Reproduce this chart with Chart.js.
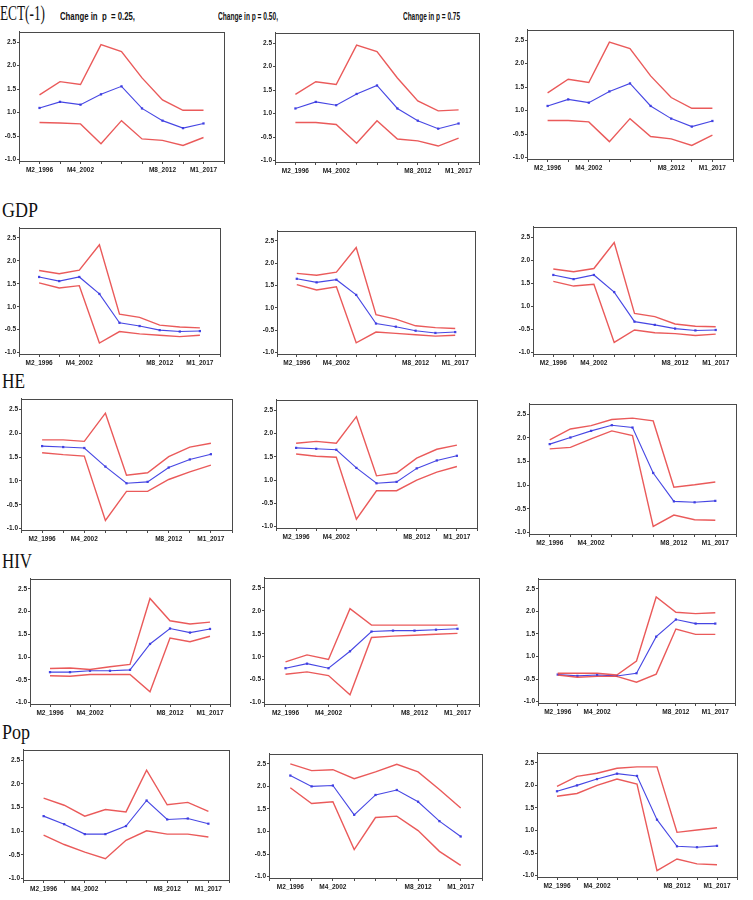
<!DOCTYPE html>
<html><head><meta charset="utf-8">
<script src="https://cdn.jsdelivr.net/npm/chart.js@4"></script>
<style>
body{margin:0;background:#fff;width:753px;height:900px;position:relative;overflow:hidden;font-family:"Liberation Sans",Arial,sans-serif}
.t{position:absolute;font-family:"Liberation Serif","DejaVu Serif",serif;font-size:20px;line-height:20px;color:#111;white-space:nowrap;transform-origin:0 0}
.h{position:absolute;font-weight:bold;font-size:10.5px;line-height:11px;color:#111;white-space:nowrap;transform-origin:0 0}
.p{position:absolute}
</style></head><body>
<div class="t" data-w="45" style="left:0px;top:3px">ECT(-1)</div>
<div class="t" data-w="36" style="left:2px;top:200px">GDP</div>
<div class="t" data-w="23" style="left:2px;top:371px">HE</div>
<div class="t" data-w="30" style="left:2px;top:551px">HIV</div>
<div class="t" data-w="28" style="left:2px;top:722px">Pop</div>
<div class="h" data-w="75" style="left:60px;top:11px">Change in&nbsp; p&nbsp; = 0.25,</div>
<div class="h" data-w="60" style="left:218px;top:11px">Change in p = 0.50,</div>
<div class="h" data-w="57" style="left:403px;top:11px">Change in p = 0.75</div>
<script>
// ---- categories and tick labels ----
const categories = ["", "M2_1996", "", "M4_2002", "", "", "", "M8_2012", "", "M1_2017", ""];
const yTickValues = [0, 0.5, 1.0, 1.5, 2.0, 2.5];
const yTickLabels = ["-1.0", "-0.5", "1.0", "1.5", "2.0", "2.5"];

// ---- ECT(-1) ----
const ectUp25  = [1.38,1.66,1.60,2.45,2.30,1.74,1.27,1.05,1.05];
const ectMid25 = [1.10,1.23,1.17,1.39,1.56,1.09,0.83,0.67,0.77];
const ectLow25 = [0.79,0.78,0.76,0.34,0.83,0.44,0.41,0.30,0.47];
const ectUp50  = [1.41,1.68,1.62,2.46,2.32,1.76,1.27,1.06,1.08];
const ectMid50 = [1.11,1.25,1.18,1.42,1.60,1.11,0.85,0.68,0.79];
const ectLow50 = [0.81,0.81,0.77,0.37,0.85,0.46,0.42,0.31,0.48];
const ectUp75  = [1.38,1.67,1.60,2.46,2.32,1.74,1.28,1.05,1.05];
const ectMid75 = [1.10,1.24,1.17,1.41,1.58,1.10,0.83,0.66,0.78];
const ectLow75 = [0.79,0.79,0.76,0.34,0.83,0.45,0.40,0.26,0.48];
// ---- GDP ----
const gdpUp25  = [1.79,1.72,1.80,2.35,0.84,0.77,0.60,0.56,0.54];
const gdpMid25 = [1.65,1.56,1.65,1.28,0.65,0.58,0.49,0.46,0.47];
const gdpLow25 = [1.52,1.41,1.46,0.21,0.46,0.41,0.38,0.35,0.38];
const gdpUp50  = [1.77,1.73,1.80,2.35,0.85,0.75,0.60,0.56,0.54];
const gdpMid50 = [1.65,1.57,1.63,1.29,0.65,0.58,0.49,0.44,0.46];
const gdpLow50 = [1.52,1.40,1.47,0.22,0.46,0.43,0.40,0.37,0.39];
const gdpUp75  = [1.81,1.75,1.82,2.38,0.85,0.78,0.62,0.57,0.56];
const gdpMid75 = [1.68,1.59,1.68,1.31,0.67,0.60,0.52,0.48,0.49];
const gdpLow75 = [1.54,1.44,1.48,0.22,0.49,0.43,0.41,0.37,0.40];
// ---- HE ----
const heUp25  = [1.86,1.86,1.83,2.42,1.12,1.17,1.51,1.71,1.79];
const heMid25 = [1.73,1.71,1.69,1.30,0.95,0.98,1.28,1.45,1.56];
const heLow25 = [1.59,1.55,1.52,0.17,0.78,0.78,1.03,1.19,1.33];
const heUp50  = [1.79,1.83,1.79,2.36,1.09,1.15,1.47,1.66,1.75];
const heMid50 = [1.69,1.67,1.65,1.26,0.93,0.96,1.25,1.42,1.52];
const heLow50 = [1.56,1.51,1.49,0.16,0.77,0.77,1.00,1.17,1.29];
const heUp75  = [1.96,2.19,2.26,2.39,2.42,2.36,0.96,1.01,1.07];
const heMid75 = [1.87,2.01,2.15,2.27,2.22,1.26,0.66,0.64,0.67];
const heLow75 = [1.77,1.80,1.98,2.15,2.05,0.13,0.37,0.27,0.26];
// ---- HIV ----
const hivUp25  = [0.75,0.76,0.73,0.79,0.84,2.29,1.80,1.73,1.77];
const hivMid25 = [0.67,0.67,0.70,0.70,0.72,1.29,1.63,1.54,1.62];
const hivLow25 = [0.59,0.58,0.62,0.62,0.62,0.24,1.42,1.34,1.46];
const hivUp50  = [0.89,1.04,0.94,2.05,1.69,1.69,1.69,1.69,1.69];
const hivMid50 = [0.75,0.85,0.75,1.12,1.55,1.57,1.57,1.59,1.61];
const hivLow50 = [0.62,0.67,0.59,0.17,1.42,1.45,1.47,1.49,1.51];
const hivUp75  = [0.63,0.63,0.63,0.59,0.90,2.32,1.98,1.95,1.97];
const hivMid75 = [0.60,0.57,0.59,0.57,0.63,1.44,1.82,1.73,1.73];
const hivLow75 = [0.59,0.54,0.56,0.56,0.43,0.61,1.61,1.49,1.49];
// ---- Pop ----
const popUp25  = [1.70,1.55,1.32,1.46,1.41,2.29,1.56,1.61,1.42];
const popMid25 = [1.32,1.15,0.94,0.94,1.11,1.65,1.25,1.27,1.16];
const popLow25 = [0.92,0.72,0.56,0.42,0.81,1.01,0.94,0.94,0.88];
const popUp50  = [2.50,2.35,2.37,2.17,2.32,2.49,2.32,1.93,1.52];
const popMid50 = [2.24,2.00,2.02,1.37,1.81,1.92,1.66,1.23,0.89];
const popLow50 = [1.97,1.62,1.66,0.60,1.31,1.34,1.02,0.56,0.25];
const popUp75  = [1.98,2.20,2.27,2.38,2.41,2.41,0.96,1.01,1.06];
const popMid75 = [1.87,2.00,2.14,2.26,2.21,1.24,0.65,0.63,0.66];
const popLow75 = [1.76,1.82,2.00,2.14,2.03,0.11,0.37,0.26,0.24];

// ---- layout (plot frame boxes: left, top, right, bottom) ----
const panels = [
  [19,30,224,161, ectUp25,ectMid25,ectLow25],
  [275,31,479,162, ectUp50,ectMid50,ectLow50],
  [527,28,733,159, ectUp75,ectMid75,ectLow75],
  [19,226,220,354, gdpUp25,gdpMid25,gdpLow25],
  [277,229,475,354, gdpUp50,gdpMid50,gdpLow50],
  [533,225,736,354, gdpUp75,gdpMid75,gdpLow75],
  [21,397,232,530, heUp25,heMid25,heLow25],
  [276,398,477,528, heUp50,heMid50,heLow50],
  [529,402,736,534, heUp75,heMid75,heLow75],
  [30,577,230,704, hivUp25,hivMid25,hivLow25],
  [264,576,479,704, hivUp50,hivMid50,hivLow50],
  [538,577,735,703, hivUp75,hivMid75,hivLow75],
  [23,748,229,880, popUp25,popMid25,popLow25],
  [269,752,482,878, popUp50,popMid50,popLow50],
  [537,751,737,877, popUp75,popMid75,popLow75]
];

const RED = "rgba(232,72,72,0.9)";
const BLUE = "rgba(60,60,225,0.95)";
const YW = 20, XH = 16, PT = 3, PR = 4;
const pad = a => [null, ...a, null];

const framePlugin = {
  id: 'frame',
  afterDraw(c) {
    const a = c.chartArea, ctx = c.ctx;
    ctx.save();
    ctx.strokeStyle = '#4a4a4a';
    ctx.lineWidth = 1;
    ctx.strokeRect(Math.round(a.left) + 0.5, Math.round(a.top) + 0.5,
                   Math.round(a.right - a.left), Math.round(a.bottom - a.top));
    ctx.restore();
  }
};

const tickFont = {family: "'Liberation Sans Narrow','Liberation Sans',Arial,sans-serif", size: 6.5, weight: 'bold'};

panels.forEach((p, i) => {
  const [L, T, R, B, up, mid, low] = p;
  const div = document.createElement('div');
  div.className = 'p';
  const w = R - L + YW + PR, h = B - T + PT + XH;
  div.style.left = (L - YW) + 'px';
  div.style.top = (T - PT) + 'px';
  div.style.width = w + 'px';
  div.style.height = h + 'px';
  const cv = document.createElement('canvas');
  cv.width = w; cv.height = h;
  cv.style.width = w + 'px'; cv.style.height = h + 'px';
  div.appendChild(cv);
  document.body.appendChild(div);
  new Chart(cv, {
    type: 'line',
    data: {
      labels: categories,
      datasets: [
        {data: pad(up), borderColor: RED, borderWidth: 1.4, pointRadius: 0, tension: 0},
        {data: pad(low), borderColor: RED, borderWidth: 1.4, pointRadius: 0, tension: 0},
        {data: pad(mid), borderColor: BLUE, borderWidth: 1.1, pointRadius: 1.6, pointStyle: 'rect',
         pointBackgroundColor: BLUE, pointBorderColor: BLUE, pointBorderWidth: 0, tension: 0}
      ]
    },
    options: {
      animation: false, responsive: false, maintainAspectRatio: false,
      plugins: {legend: {display: false}, tooltip: {enabled: false}},
      layout: {padding: {top: PT, right: PR, left: 0, bottom: 0}},
      scales: {
        x: {
          offset: false,
          grid: {display: true, drawOnChartArea: false, drawTicks: true, tickLength: 3, color: '#4a4a4a'},
          border: {display: true, color: '#4a4a4a'},
          ticks: {autoSkip: false, maxRotation: 0, minRotation: 0, font: tickFont, color: '#222', padding: 2},
          afterFit(s) { s.height = XH; }
        },
        y: {
          min: -0.03, max: 2.72,
          afterBuildTicks(s) { s.ticks = yTickValues.map(v => ({value: v})); },
          grid: {display: true, drawOnChartArea: false, drawTicks: true, tickLength: 2, color: '#4a4a4a'},
          border: {display: true, color: '#4a4a4a'},
          ticks: {font: tickFont, color: '#222', padding: 1,
                  callback(v) { const k = yTickValues.indexOf(v); return k >= 0 ? yTickLabels[k] : ''; }},
          afterFit(s) { s.width = YW; }
        }
      }
    },
    plugins: [framePlugin]
  });
});

// fit title text widths to reference
document.querySelectorAll('[data-w]').forEach(el => {
  const target = +el.dataset.w;
  const actual = el.getBoundingClientRect().width;
  if (actual > 0) el.style.transform = 'scaleX(' + (target / actual) + ')';
});
</script>
</body></html>
